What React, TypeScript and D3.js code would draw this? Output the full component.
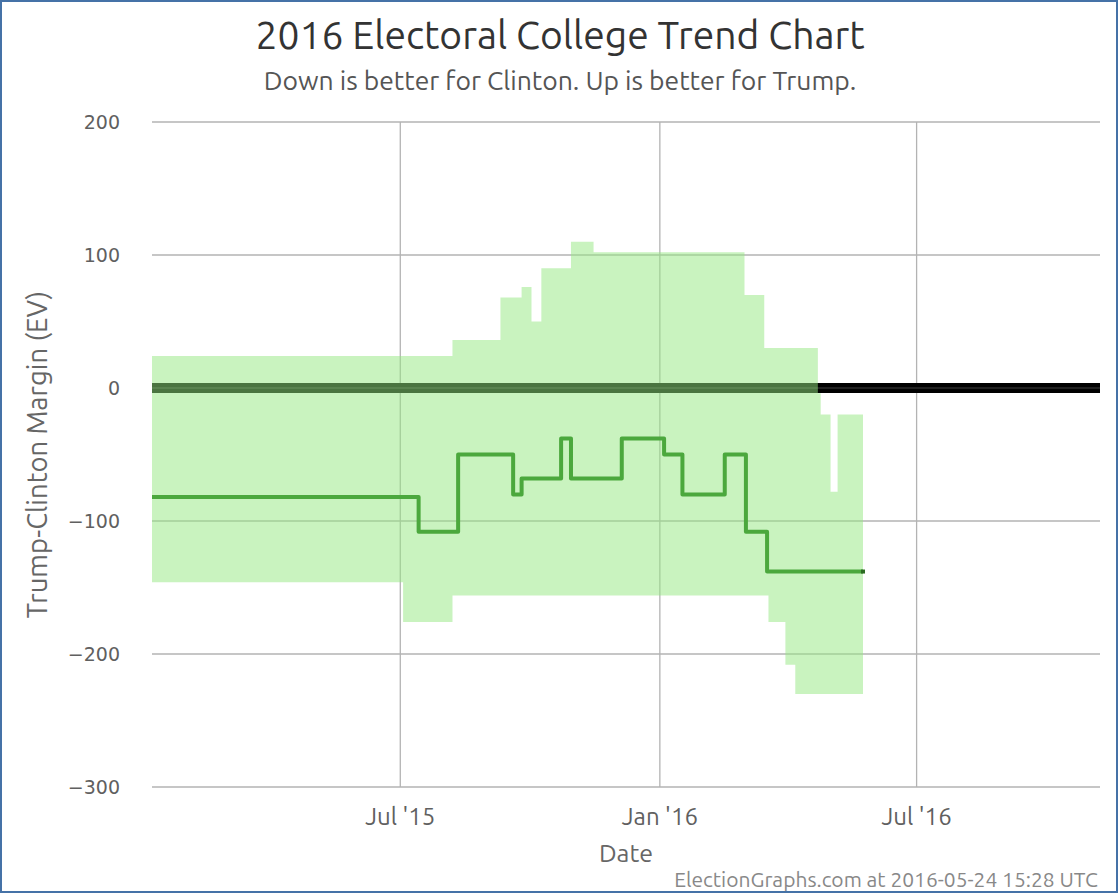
import * as d3 from "d3";

// step change points: [date, value]
const lineSteps: [string, number][] = [
  ["2015-01-06", -82],
  ["2015-07-14", -108],
  ["2015-08-11", -50],
  ["2015-09-19", -80],
  ["2015-09-25", -68],
  ["2015-10-23", -38],
  ["2015-10-30", -68],
  ["2015-12-05", -38],
  ["2016-01-04", -50],
  ["2016-01-17", -80],
  ["2016-02-16", -50],
  ["2016-03-02", -108],
  ["2016-03-17", -138],
];

const upperSteps: [string, number][] = [
  ["2015-01-06", 24],
  ["2015-08-07", 36],
  ["2015-09-10", 68],
  ["2015-09-25", 76],
  ["2015-10-02", 50],
  ["2015-10-09", 90],
  ["2015-10-30", 110],
  ["2015-11-15", 102],
  ["2016-03-01", 70],
  ["2016-03-15", 30],
  ["2016-04-22", -4],
  ["2016-04-24", -20],
  ["2016-05-01", -78],
  ["2016-05-06", -20],
];

const lowerSteps: [string, number][] = [
  ["2015-01-06", -146],
  ["2015-07-03", -176],
  ["2015-08-07", -156],
  ["2016-03-18", -176],
  ["2016-03-30", -208],
  ["2016-04-06", -230],
];

const lastDate = "2016-05-24";
const domainDates = ["2015-01-06", "2016-11-08"];
const xTicks = ["2015-07-01", "2016-01-01", "2016-07-01"];
const xTickLabels = ["Jul '15", "Jan '16", "Jul '16"];
const yTicks = [200, 100, 0, -100, -200, -300];

const W = 1120;
const H = 896;
const left = 152;
const right = 1100;
const top = 122;
const bottom = 787;

const parse = d3.utcParse("%Y-%m-%d");
const font = "Ubuntu, 'Open Sans', 'DejaVu Sans', sans-serif";

function valueAt(steps: [string, number][], d: Date) {
  let v = steps[0][1];
  for (const [ds, val] of steps) {
    if (parse(ds)!.getTime() <= d.getTime()) v = val;
  }
  return v;
}

export default function App() {
  const x = d3
    .scaleUtc()
    .domain(domainDates.map((d) => parse(d)!))
    .range([left, right]);
  const y = d3.scaleLinear().domain([-300, 200]).range([bottom, top]);

  // band breakpoints
  const breaks = Array.from(
    new Set([...upperSteps.map((s) => s[0]), ...lowerSteps.map((s) => s[0]), lastDate])
  )
    .sort()
    .map((d) => parse(d)!);
  const bandData = breaks.map((d) => ({
    d,
    hi: valueAt(upperSteps, d),
    lo: valueAt(lowerSteps, d),
  }));

  const area = d3
    .area<{ d: Date; hi: number; lo: number }>()
    .x((p) => x(p.d))
    .y0((p) => y(p.lo))
    .y1((p) => y(p.hi))
    .curve(d3.curveStepAfter);

  const linePts: [Date, number][] = [
    ...lineSteps.map(([d, v]) => [parse(d)!, v] as [Date, number]),
    [parse(lastDate)!, lineSteps[lineSteps.length - 1][1]],
  ];
  const line = d3
    .line<[Date, number]>()
    .x((p) => x(p[0]))
    .y((p) => y(p[1]))
    .curve(d3.curveStepAfter);

  const endPt = linePts[linePts.length - 1];

  return (
    <div style={{ position: "absolute", left: 0, top: 0 }}>
      <svg width={W} height={H} style={{ display: "block" }}>
        <rect x={0} y={0} width={W} height={H} fill="#fff" />
        <rect x={1} y={1} width={1116} height={891} fill="none" stroke="#4572A7" strokeWidth={2} />

        <text x={560} y={49} textAnchor="middle" fontFamily={font} fontSize={39} fill="#333">
          2016 Electoral College Trend Chart
        </text>
        <text x={560} y={90} textAnchor="middle" fontFamily={font} fontSize={26.5} fill="#555">
          Down is better for Clinton. Up is better for Trump.
        </text>

        {/* grid */}
        {yTicks.map((t) => (
          <line key={t} x1={left} x2={right} y1={y(t)} y2={y(t)} stroke="#b3b3b3" strokeWidth={1.3} />
        ))}
        {xTicks.map((t) => (
          <line key={t} x1={x(parse(t)!)} x2={x(parse(t)!)} y1={top} y2={bottom} stroke="#b3b3b3" strokeWidth={1.3} />
        ))}

        {/* zero line */}
        <line x1={left} x2={right} y1={y(0)} y2={y(0)} stroke="#000" strokeWidth={10} />
        <line x1={left} x2={right} y1={y(0)} y2={y(0)} stroke="#2a2a2a" strokeWidth={1.5} />

        {/* band */}
        <path d={area(bandData)!} fill="rgb(148,232,128)" fillOpacity={0.5} />

        {/* center line */}
        <path d={line(linePts)!} fill="none" stroke="#4ba83d" strokeWidth={4} strokeLinejoin="round" />
        <rect x={x(endPt[0]) - 2} y={y(endPt[1]) - 2} width={4} height={4} fill="#2c6b22" />

        {/* y axis labels */}
        {yTicks.map((t) => (
          <text key={t} x={120} y={y(t) + 7} textAnchor="end" fontFamily="'DejaVu Sans', sans-serif" fontSize={19} fill="#606060">
            {t < 0 ? `\u2212${-t}` : t}
          </text>
        ))}
        <text
          transform={`translate(47,${(top + bottom) / 2}) rotate(-90)`}
          textAnchor="middle"
          fontFamily={font}
          fontSize={27.5}
          fill="#666"
        >
          Trump-Clinton Margin (EV)
        </text>

        {/* x axis labels */}
        {xTicks.map((t, i) => (
          <text key={t} x={x(parse(t)!)} y={825} textAnchor="middle" fontFamily={font} fontSize={24} fill="#606060">
            {xTickLabels[i]}
          </text>
        ))}
        <text x={(left + right) / 2} y={862} textAnchor="middle" fontFamily={font} fontSize={25} fill="#666">
          Date
        </text>

        <text x={1098} y={887} textAnchor="end" fontFamily={font} fontSize={21} fill="#888">
          ElectionGraphs.com at 2016-05-24 15:28 UTC
        </text>
      </svg>
    </div>
  );
}
